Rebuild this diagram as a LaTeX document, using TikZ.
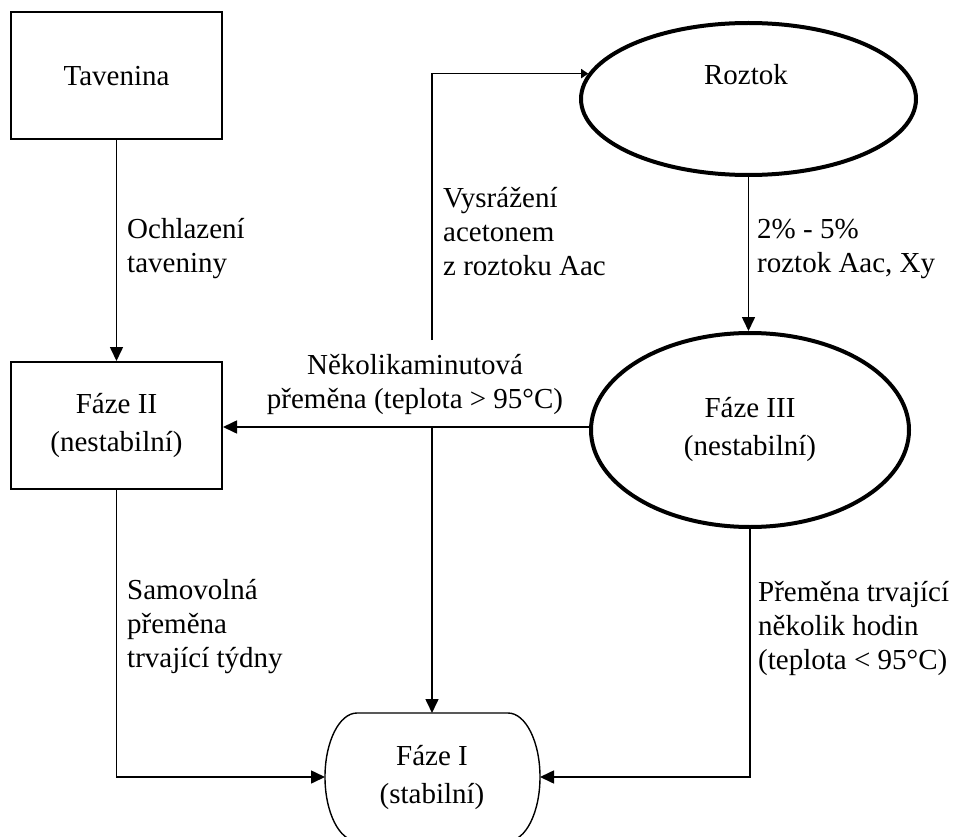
\documentclass[tikz,border=0pt]{standalone}
\usepackage{fontspec}
\setmainfont{Liberation Serif}
\usetikzlibrary{arrows.meta,shapes.geometric}
\begin{document}
\begin{tikzpicture}[x=1pt,y=-1pt,
  txt/.style={font=\fontsize{29}{34}\selectfont, inner sep=0pt, align=left, text=black},
  ntxt/.style={font=\fontsize{29}{38}\selectfont, inner sep=0pt, align=center, text=black},
  box/.style={draw, line width=2pt, minimum width=211pt, minimum height=127pt, inner sep=0pt},
  oval/.style={draw, ellipse, line width=4pt, inner sep=0pt},
  conn/.style={line width=1.6pt, -{Triangle[length=14pt,width=13pt]}},
  plain/.style={line width=1.6pt}
]
\clip (0,0) rectangle (956,837);
\fill[white] (0,0) rectangle (956,837);

% nodes
\node[box, ntxt] (tav) at (116.5,76) {Tavenina};
\node[box, ntxt] (f2) at (116.5,425.5) {Fáze II\\(nestabilní)};
\node[oval, minimum width=335pt, minimum height=152pt] (roz) at (748.5,99) {};
\node[ntxt] (roztext) at (746,75) {Roztok};
\node[oval, ntxt, minimum width=318pt, minimum height=194pt] (f3) at (750,430) {Fáze III\\(nestabilní)};

% Faze I (barrel shape)
\draw[line width=1.4pt] (357,713) -- (508,713)
  arc[start angle=90,end angle=-90,x radius=32pt,y radius=64pt]
  -- (357,841)
  arc[start angle=270,end angle=90,x radius=32pt,y radius=64pt] -- cycle;
\node[ntxt] (f1) at (432,777) {Fáze I\\(stabilní)};
\coordinate (f1top) at (432,713);
\coordinate (f1w) at (325,777);
\coordinate (f1e) at (540,777);

% connector helper points
\coordinate (j) at (432,427);
\coordinate (v) at (432,340);

% connectors
\draw[conn] (tav.south) -- (f2.north);
\draw[conn] (f2.south) |- (f1w);
\draw[conn] (j -| f3.west) -- (j -| f2.east);
\draw[conn] (j) -- (f1top);
\draw[plain, -{Triangle[length=7pt,width=9pt]}] (v) |- (roz.171);
\draw[conn] (roz.south) -- (roz.south |- f3.north);
\draw[conn] (f3.south) |- (f1e);

% labels
\node[txt, anchor=west] (l1) at (127,249) {Ochlazení\\taveniny};
\node[txt, anchor=west] (l2) at (443,232) {Vysrážení\\acetonem\\z roztoku Aac};
\node[txt, anchor=west] (l3) at (757,249) {2\% - 5\%\\roztok Aac, Xy};
\node[txt, anchor=west] (l4) at (127,627) {Samovolná\\přeměna\\trvající týdny};
\node[txt, anchor=west] (l5) at (758,628) {Přeměna trvající\\několik hodin\\(teplota < 95°C)};
\node[txt, align=center] (l6) at (415,384) {Několikaminutová\\přeměna (teplota > 95°C)};
\end{tikzpicture}
\end{document}
